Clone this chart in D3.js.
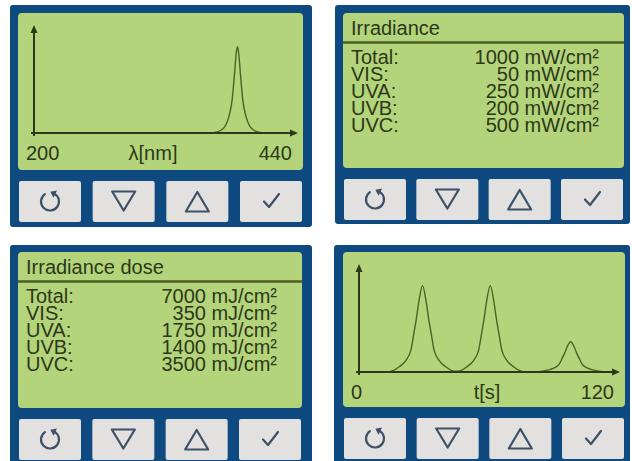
<!DOCTYPE html>
<html>
<head>
<meta charset="utf-8">
<script src="https://cdn.jsdelivr.net/npm/d3@7"></script>
<style>
  body { margin: 0; background: #fff; }
  svg text { font-family: "Liberation Sans", Arial, sans-serif; }
</style>
</head>
<body>
<svg id="screens" width="632" height="461"></svg>
<script>
//// DATA

// text screens
const rowLabels = ["Total:", "VIS:", "UVA:", "UVB:", "UVC:"];
const irradianceValues = [1000, 50, 250, 200, 500];
const doseValues = [7000, 350, 1750, 1400, 3500];

// spectrum screen (relative intensity vs wavelength)
const spectrumNm = [200, 366, 370, 375, 379, 382, 385, 387, 389, 390, 391, 393, 395, 398, 401, 405, 410, 414, 440];
const spectrumRel = [0, 0, 0.01, 0.035, 0.09, 0.19, 0.38, 0.65, 0.94, 1, 0.94, 0.65, 0.38, 0.19, 0.09, 0.035, 0.01, 0, 0];
const spectrumTicks = [200, 440];

// time screen (relative signal vs seconds)
const timeS = [0, 13, 16, 19, 22, 24.5, 26, 27, 28.5, 30, 31.5, 33, 34, 35.5, 38, 41, 44,
    46, 48, 51, 54, 56.5, 58, 59, 60.5, 62, 63.5, 65, 66, 67.5, 70, 73, 76, 79,
    83, 86, 89, 92, 94.5, 96, 97, 98.5, 100, 101.5, 103, 104, 105.5, 108, 111, 114, 117, 120];
const timeRel = [0, 0, 0.015, 0.06, 0.13, 0.25, 0.46, 0.6, 0.85, 1, 0.85, 0.6, 0.46, 0.25, 0.13, 0.06, 0.015,
    0.008, 0.015, 0.06, 0.13, 0.25, 0.46, 0.6, 0.85, 1, 0.85, 0.6, 0.46, 0.25, 0.13, 0.06, 0.015, 0,
    0, 0.005, 0.021, 0.045, 0.088, 0.16, 0.21, 0.3, 0.35, 0.3, 0.21, 0.16, 0.088, 0.045, 0.021, 0.005, 0, 0];
const timeTicks = [0, 120];

//// SETTINGS
const colors = {
    blue: "#0e4a7f",
    lcd: "#b4d47b",
    button: "#e3e1df",
    icon: "#3d5068",
    ink: "#2c3819",
    rule: "#4c5d24",
    curve: "#4b6326",
};
const fontSize = 20;
const rowStep = 16.9;

// device frames: outer blue, green lcd
const panels = [
    { outer: [10, 5, 302, 222], lcd: [18, 13, 285, 157], kind: "spectrum" },
    { outer: [335, 5, 295, 219], lcd: [343, 13, 281, 155], kind: "table", title: "Irradiance", values: irradianceValues, unit: "mW/cm²" },
    { outer: [10, 245, 302, 222], lcd: [18, 252, 284, 156], kind: "table", title: "Irradiance dose", values: doseValues, unit: "mJ/cm²" },
    { outer: [334, 245, 296, 222], lcd: [343, 252, 282, 155], kind: "time" },
];

const svg = d3.select("#screens");

//// FUNCTION CALLS
panels.forEach(drawPanel);

//// FUNCTIONS
function drawPanel(p) {
    const g = svg.append("g");
    const [ox, oy, ow, oh] = p.outer;
    const [gx, gy, gw, gh] = p.lcd;

    g.append("rect")
        .attr("x", ox).attr("y", oy).attr("width", ow).attr("height", oh)
        .attr("rx", 3)
        .attr("fill", colors.blue);

    g.append("rect")
        .attr("x", gx).attr("y", gy).attr("width", gw).attr("height", gh)
        .attr("rx", 4)
        .attr("fill", colors.lcd);

    drawButtons(g, gx + 1, gx + gw - 1, gy + gh + 11, 41);

    if (p.kind === "table") drawTable(g, p);
    if (p.kind === "spectrum") drawChart(g, p.lcd, spectrumNm, spectrumRel, spectrumTicks, "λ[nm]", 135);
    if (p.kind === "time") drawChart(g, p.lcd, timeS, timeRel, timeTicks, "t[s]", 144);
}

function drawTable(g, p) {
    const [gx, gy, gw] = p.lcd;

    g.append("text")
        .attr("x", gx + 8).attr("y", gy + 22)
        .attr("font-size", fontSize)
        .attr("fill", colors.ink)
        .text(p.title);

    g.append("line")
        .attr("x1", gx).attr("x2", gx + gw)
        .attr("y1", gy + 29.5).attr("y2", gy + 29.5)
        .attr("stroke", colors.rule)
        .attr("stroke-width", 2.5);

    // one text block per column, one tspan per row
    const labelCol = g.append("text")
        .attr("x", gx + 8).attr("y", gy + 51)
        .attr("font-size", fontSize)
        .attr("fill", colors.ink);
    labelCol.selectAll("tspan")
        .data(rowLabels)
        .enter()
        .append("tspan")
        .attr("x", gx + 8)
        .attr("dy", (d, i) => i === 0 ? 0 : rowStep)
        .text(d => d);

    const valueCol = g.append("text")
        .attr("x", gx + gw - 25).attr("y", gy + 51)
        .attr("text-anchor", "end")
        .attr("font-size", fontSize)
        .attr("fill", colors.ink);
    valueCol.selectAll("tspan")
        .data(p.values)
        .enter()
        .append("tspan")
        .attr("x", gx + gw - 25)
        .attr("dy", (d, i) => i === 0 ? 0 : rowStep)
        .text(d => d + " " + p.unit);
}

function drawChart(g, lcd, xs, ys, ticks, axisLabel, labelOffset) {
    const [gx, gy, gw] = lcd;

    const x = d3.scaleLinear().domain(d3.extent(ticks)).range([gx + 16, gx + gw - 12]);
    const y = d3.scaleLinear().domain([0, 1.25]).range([gy + 120, gy + 12]);

    const x0 = x.range()[0];
    const y0 = y(0);
    const tipX = gx + gw - 5;
    const tipY = y.range()[1];

    const line = d3.line()
        .x(d => x(d[0]))
        .y(d => y(d[1]))
        .curve(d3.curveMonotoneX);

    g.append("path")
        .datum(xs.map((v, i) => [v, ys[i]]))
        .attr("d", line)
        .attr("fill", "none")
        .attr("stroke", colors.curve)
        .attr("stroke-width", 1.4);

    // axes with arrow heads
    g.append("line")
        .attr("x1", x0 - 3).attr("x2", tipX - 5)
        .attr("y1", y0).attr("y2", y0)
        .attr("stroke", colors.ink).attr("stroke-width", 2);
    g.append("line")
        .attr("x1", x0).attr("x2", x0)
        .attr("y1", y0 + 3).attr("y2", tipY + 5)
        .attr("stroke", colors.ink).attr("stroke-width", 2);
    g.append("path")
        .attr("d", `M${tipX},${y0}L${tipX - 8},${y0 - 3.5}L${tipX - 8},${y0 + 3.5}Z`)
        .attr("fill", colors.ink);
    g.append("path")
        .attr("d", `M${x0},${tipY}L${x0 - 3.5},${tipY + 8}L${x0 + 3.5},${tipY + 8}Z`)
        .attr("fill", colors.ink);

    // end labels
    g.selectAll(".tick")
        .data(ticks)
        .enter()
        .append("text")
        .attr("class", "tick")
        .attr("x", (d, i) => i === 0 ? x(d) - 8 : x(d) + 1)
        .attr("y", gy + 147)
        .attr("text-anchor", (d, i) => i === 0 ? "start" : "end")
        .attr("font-size", fontSize)
        .attr("fill", colors.ink)
        .text(d => d);

    g.append("text")
        .attr("x", gx + labelOffset)
        .attr("y", gy + 147)
        .attr("text-anchor", "middle")
        .attr("font-size", fontSize)
        .attr("fill", colors.ink)
        .text(axisLabel);
}

function drawButtons(g, left, right, top, h) {
    const bw = 62;
    const gap = (right - left - 4 * bw) / 3;
    const icons = ["reset", "down", "up", "ok"];

    icons.forEach(function (name, i) {
        const bx = left + i * (bw + gap);
        g.append("rect")
            .attr("x", bx).attr("y", top).attr("width", bw).attr("height", h)
            .attr("rx", 2)
            .attr("fill", colors.button);
        drawIcon(g, name, bx + bw / 2, top + h / 2);
    });
}

function drawIcon(g, name, cx, cy) {
    const stroke = { fill: "none", stroke: colors.icon, "stroke-width": 2.2, "stroke-linejoin": "round", "stroke-linecap": "round" };
    let d;
    if (name === "down") {
        d = `M${cx - 11.5},${cy - 10}L${cx + 11.5},${cy - 10}L${cx},${cy + 9}Z`;
    } else if (name === "up") {
        d = `M${cx},${cy - 9.5}L${cx + 11.5},${cy + 10}L${cx - 11.5},${cy + 10}Z`;
    } else if (name === "ok") {
        d = `M${cx - 7},${cy}L${cx - 2},${cy + 5.5}L${cx + 8},${cy - 7.5}`;
    } else {
        const r = 9;
        const a0 = -Math.PI / 2 + 0.45;
        const a1 = -Math.PI / 2 - 0.6 + 2 * Math.PI;
        const p = d3.path();
        p.moveTo(cx + r * Math.cos(a0), cy + r * Math.sin(a0));
        p.arc(cx, cy, r, a0, a1);
        d = p.toString();
        // arrow head at the right-hand end, pointing back over the gap
        const hx = cx + r * Math.cos(a0), hy = cy + r * Math.sin(a0);
        const tx = Math.sin(a0), ty = -Math.cos(a0);
        g.append("path")
            .attr("d", `M${hx + tx * 4},${hy + ty * 4}L${hx - ty * 4 - tx * 1.5},${hy + tx * 4 - ty * 1.5}L${hx + ty * 4 - tx * 1.5},${hy - tx * 4 - ty * 1.5}Z`)
            .attr("fill", colors.icon);
    }
    const path = g.append("path").attr("d", d);
    Object.entries(stroke).forEach(([k, v]) => path.attr(k, v));
}
</script>
</body>
</html>
